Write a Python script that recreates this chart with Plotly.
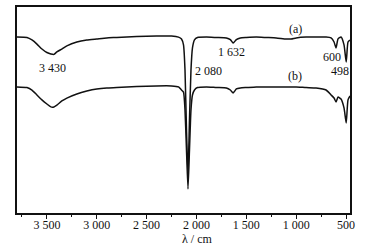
import plotly.graph_objects as go

wavenumber = [3800, 3700, 3650, 3600, 3550, 3500, 3460, 3430, 3400, 3350, 3300, 3200, 3100, 3000,
              2900, 2800, 2600, 2400, 2250, 2180, 2150, 2130, 2115, 2100, 2085, 2070, 2055, 2040,
              2020, 1990, 1900, 1800, 1700, 1660, 1632, 1600, 1560, 1500, 1400, 1300, 1200, 1100,
              1050, 1000, 900, 800, 700, 650, 620, 600, 580, 550, 520, 498, 480, 460]

trans_a = [85.4, 85.2, 84.0, 82.0, 79.6, 77.9, 77.2, 77.0, 78.2, 79.6, 81.1, 83.0, 84.0, 84.5,
           85.0, 85.2, 85.7, 85.9, 85.9, 85.4, 84.5, 81.6, 69.4, 40.3, 18.4, 45.1, 69.4, 80.1,
           84.0, 85.2, 85.4, 85.2, 85.0, 84.2, 82.5, 84.2, 85.0, 85.2, 85.4, 85.2, 85.0, 84.5,
           84.5, 85.0, 85.4, 85.4, 85.4, 85.0, 83.0, 80.1, 84.5, 85.4, 81.6, 73.3, 83.0, 84.0]

trans_b = [61.2, 60.9, 59.7, 57.3, 54.9, 52.9, 51.5, 51.5, 52.4, 54.4, 55.8, 57.8, 59.2, 60.2,
           60.7, 60.9, 61.4, 61.7, 61.7, 61.2, 59.7, 58.7, 50.0, 30.6, 11.7, 30.6, 50.0, 57.3,
           59.7, 60.9, 61.2, 60.9, 60.7, 59.7, 58.3, 60.2, 60.7, 60.9, 61.2, 61.2, 61.2, 61.2,
           61.2, 61.2, 60.9, 60.7, 59.7, 57.3, 55.8, 53.9, 56.3, 55.3, 51.0, 43.7, 54.9, 56.8]

tick_vals = [3500, 3000, 2500, 2000, 1500, 1000, 500]
tick_text = ["3 500", "3 000", "2 500", "2 000", "1 500", "1 000", "500"]
minor_vals = [3750, 3250, 2750, 2250, 1750, 1250, 750]

peak_labels = ["3 430", "2 080", "1 632", "600", "498", "(a)", "(b)"]
peak_x = [3440, 1880, 1650, 640, 560, 1010, 1010]
peak_y = [70.4, 68.9, 78.2, 75.7, 68.9, 89.3, 66.5]

FONT = "Liberation Serif"
L, R, T, B = 17, 350, 7, 213

fig = go.Figure()
for ys in (trans_a, trans_b):
    fig.add_trace(go.Scatter(x=wavenumber, y=ys, mode="lines",
                             line=dict(color="#111111", width=1.5, shape="spline", smoothing=0.5),
                             showlegend=False, hoverinfo="skip"))

for t, x, y in zip(peak_labels, peak_x, peak_y):
    fig.add_annotation(x=x, y=y, xref="x", yref="y", text=t, showarrow=False,
                       font=dict(family=FONT, size=12, color="#111111"))

fig.add_annotation(xref="paper", yref="paper",
                   x=(197 - L) / (R - L), y=(B - 239) / (B - T),
                   xanchor="center", yanchor="middle",
                   text="λ / cm", showarrow=False,
                   font=dict(family=FONT, size=12, color="#111111"))

fig.update_layout(
    width=384, height=248, autosize=False,
    margin=dict(l=L, r=384 - R, t=T, b=248 - B, pad=0),
    paper_bgcolor="white", plot_bgcolor="white",
    font=dict(family=FONT, size=12, color="#111111"),
    xaxis=dict(range=[3800, 460], tickvals=tick_vals, ticktext=tick_text,
               ticks="outside", ticklen=4, tickwidth=1.2, tickcolor="#111111",
               ticklabelstandoff=-4,
               minor=dict(tickvals=minor_vals, ticks="outside", ticklen=2, tickwidth=1.2, tickcolor="#111111"),
               showline=True, linecolor="#111111", linewidth=1.5, mirror=True,
               showgrid=False, zeroline=False, automargin=False,
               tickfont=dict(family=FONT, size=12, color="#111111")),
    yaxis=dict(range=[0, 100], showticklabels=False, ticks="",
               showline=True, linecolor="#111111", linewidth=1.5, mirror=True,
               showgrid=False, zeroline=False, automargin=False),
)

fig.write_html("out.html", config={"displayModeBar": False},
               post_script="document.body.style.margin='0';document.body.style.padding='0';")
